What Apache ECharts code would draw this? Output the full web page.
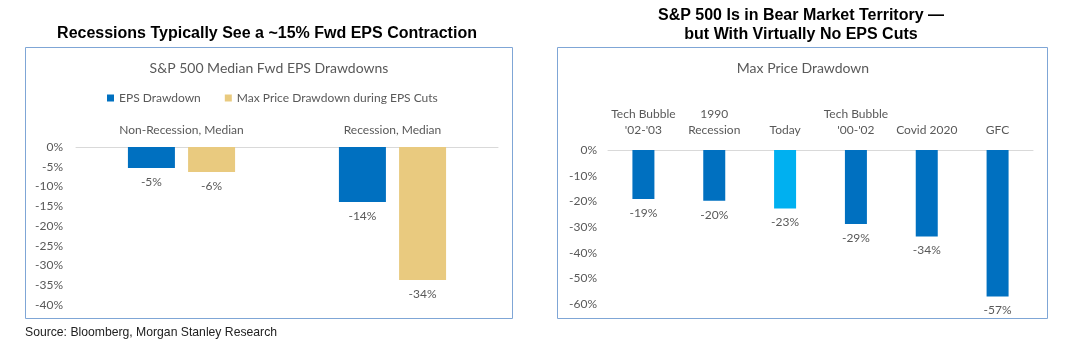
<!DOCTYPE html>
<html><head><meta charset="utf-8">
<script src="https://cdn.jsdelivr.net/npm/echarts@6/dist/echarts.min.js"></script>
<style>html,body{margin:0;padding:0;background:#fff}#c{width:1079px;height:358px}</style>
</head><body><div id="c"></div>
<script>
const leftCategories = ['Non-Recession, Median', 'Recession, Median'];
const epsDrawdown = [-5.3, -13.9];
const priceDrawdown = [-6.3, -33.7];
const leftTicks = [0, -5, -10, -15, -20, -25, -30, -35, -40];

const rightCategories = ["Tech Bubble\n'02-'03", '1990\nRecession', 'Today', "Tech Bubble\n'00-'02", 'Covid 2020', 'GFC'];
const maxPriceDrawdown = [-19.1, -19.8, -22.8, -28.8, -33.7, -57.1];
const rightTicks = [0, -10, -20, -30, -40, -50, -60];

const chart = echarts.init(document.getElementById('c'), null, {renderer: 'canvas'});
const txt = '#595959';
const ff = 'Lato, "Open Sans", sans-serif';
const pct = p => Math.round(p.value) + '%';

chart.setOption({
  animation: false,
  textStyle: {fontFamily: ff},
  title: [
    {text: 'Recessions Typically See a ~15% Fwd EPS Contraction', left: 267, top: 26, textAlign: 'center', padding: 0,
     textStyle: {fontFamily: 'Liberation Sans, Arial', fontWeight: 'bold', fontSize: 16, color: '#000'}},
    {text: 'S&P 500 Median Fwd EPS Drawdowns', left: 269, top: 61, textAlign: 'center', padding: 0,
     textStyle: {fontFamily: ff, fontWeight: 'normal', fontSize: 14, color: txt}},
    {text: 'S&P 500 Is in Bear Market Territory —\nbut With Virtually No EPS Cuts', left: 801, top: 6, textAlign: 'center', padding: 0,
     textStyle: {fontFamily: 'Liberation Sans, Arial', fontWeight: 'bold', fontSize: 16, color: '#000', lineHeight: 19}},
    {text: 'Max Price Drawdown', left: 803, top: 61, textAlign: 'center', padding: 0,
     textStyle: {fontFamily: ff, fontWeight: 'normal', fontSize: 14, color: txt}},
    {text: 'Source: Bloomberg, Morgan Stanley Research', left: 25, top: 327, padding: 0,
     textStyle: {fontFamily: 'Liberation Sans, Arial', fontWeight: 'normal', fontSize: 12.2, color: '#222'}}
  ],
  legend: {
    data: ['EPS Drawdown', 'Max Price Drawdown during EPS Cuts'],
    left: 107, top: 92, padding: 0, icon: 'rect', itemWidth: 7, itemHeight: 7, itemGap: 24,
    textStyle: {color: txt, fontSize: 12, fontFamily: ff}
  },
  graphic: [
    {type: 'rect', shape: {x: 25.5, y: 47.5, width: 487, height: 271}, style: {fill: 'none', stroke: '#7FA6D6', lineWidth: 1}},
    {type: 'rect', shape: {x: 557.5, y: 47.5, width: 490, height: 271}, style: {fill: 'none', stroke: '#7FA6D6', lineWidth: 1}}
  ],
  grid: [
    {left: 76, top: 147, width: 422, height: 158},
    {left: 608, top: 150, width: 425, height: 154}
  ],
  xAxis: [
    {type: 'category', gridIndex: 0, data: leftCategories, position: 'top',
     axisLine: {lineStyle: {color: '#D9D9D9'}}, axisTick: {show: false},
     axisLabel: {color: txt, fontSize: 12, margin: 11, fontFamily: ff}},
    {type: 'category', gridIndex: 1, data: rightCategories, position: 'top',
     axisLine: {lineStyle: {color: '#D9D9D9'}}, axisTick: {show: false},
     axisLabel: {color: txt, fontSize: 12, margin: 12, lineHeight: 16, fontFamily: ff, interval: 0}}
  ],
  yAxis: [
    {type: 'value', gridIndex: 0, min: -40, max: 0, interval: 5,
     splitLine: {show: false}, axisLine: {show: false}, axisTick: {show: false},
     axisLabel: {color: txt, fontSize: 12, margin: 13, fontFamily: ff,
       formatter: v => leftTicks.includes(v) ? v + '%' : ''}},
    {type: 'value', gridIndex: 1, min: -60, max: 0, interval: 10,
     splitLine: {show: false}, axisLine: {show: false}, axisTick: {show: false},
     axisLabel: {color: txt, fontSize: 12, margin: 11, fontFamily: ff,
       formatter: v => rightTicks.includes(v) ? v + '%' : ''}}
  ],
  series: [
    {name: 'EPS Drawdown', type: 'bar', xAxisIndex: 0, yAxisIndex: 0, data: epsDrawdown,
     barWidth: 47, barGap: '28%', itemStyle: {color: '#0070C0'},
     label: {show: true, position: 'bottom', distance: 8, color: txt, fontSize: 12, fontFamily: ff, formatter: pct}},
    {name: 'Max Price Drawdown during EPS Cuts', type: 'bar', xAxisIndex: 0, yAxisIndex: 0, data: priceDrawdown,
     barWidth: 47, barGap: '28%', itemStyle: {color: '#E9CA7F'},
     label: {show: true, position: 'bottom', distance: 8, color: txt, fontSize: 12, fontFamily: ff, formatter: pct}},
    {name: 'Max Price Drawdown', type: 'bar', xAxisIndex: 1, yAxisIndex: 1, data: maxPriceDrawdown,
     barWidth: 22,
     itemStyle: {color: p => rightCategories[p.dataIndex] === 'Today' ? '#00B0F0' : '#0070C0'},
     label: {show: true, position: 'bottom', distance: 8, color: txt, fontSize: 12, fontFamily: ff, formatter: pct}}
  ]
});
</script></body></html>
